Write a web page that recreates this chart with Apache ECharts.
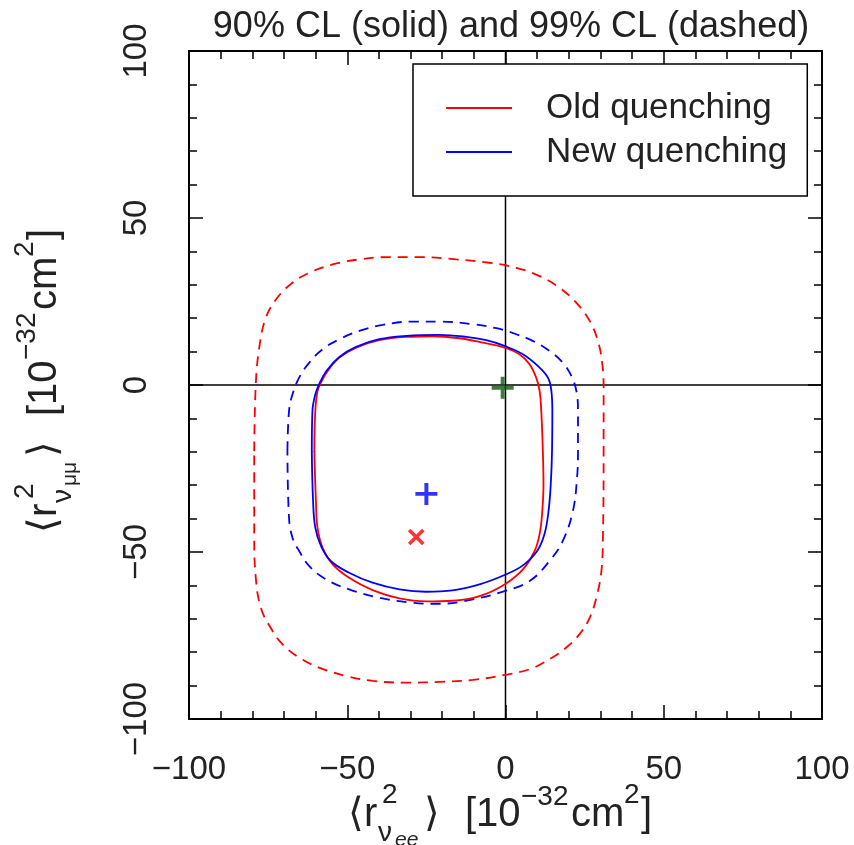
<!DOCTYPE html>
<html>
<head>
<meta charset="utf-8">
<script src="https://cdn.jsdelivr.net/npm/echarts@6/dist/echarts.min.js"></script>
<style>
html,body{margin:0;padding:0;background:#fff;}
#chart{width:854px;height:845px;}
</style>
</head>
<body>
<div id="chart"></div>
<script>
// ---- data ----
const titleText = '90% CL (solid) and 99% CL (dashed)';
const axisMin = -100, axisMax = 100, axisStep = 50;
const tickValues = [-100, -50, 0, 50, 100];

const seriesNames = ['Old quenching', 'New quenching'];

// 90% CL, old quenching (red solid)
const old90 = [[-60.4,-19.8],[-60.1,-7.8],[-59.4,-1.8],[-58.3,0.7],[-56.2,4.2],[-52.5,8.2],[-47.2,11.2],[-39.9,13.4],[-31.4,14.4],[-23.0,14.6],[-14.6,14.0],[-7.2,12.7],[-0.3,11.2],[4.4,9.2],[7.6,6.2],[9.7,2.2],[10.8,-1.8],[11.3,-7.8],[11.8,-19.8],[12.0,-29.7],[11.6,-38.0],[10.8,-44.5],[9.2,-49.7],[5.5,-55.2],[-0.3,-59.7],[-8.2,-63.2],[-16.7,-64.6],[-25.1,-64.8],[-33.5,-63.9],[-42.0,-61.4],[-49.4,-57.7],[-54.6,-53.7],[-57.8,-48.7],[-59.4,-42.7],[-59.9,-34.7],[-60.4,-19.8]];
// 90% CL, new quenching (blue solid)
const new90 = [[-61.2,-19.8],[-61.0,-7.8],[-60.1,-2.8],[-58.9,0.2],[-56.6,4.2],[-52.5,8.4],[-47.2,11.4],[-39.9,13.7],[-31.4,14.7],[-20.9,15.0],[-12.4,14.4],[-6.1,13.4],[-0.3,11.7],[5.5,9.2],[10.2,5.7],[13.4,2.2],[14.5,-1.8],[14.8,-7.8],[14.7,-19.8],[14.3,-29.7],[13.6,-37.7],[12.3,-44.7],[10.0,-49.7],[5.5,-54.0],[-0.3,-56.9],[-8.2,-59.7],[-16.7,-61.5],[-25.1,-61.9],[-33.5,-61.2],[-42.0,-59.2],[-49.4,-56.2],[-55.2,-52.7],[-58.3,-48.2],[-60.1,-42.7],[-60.8,-34.7],[-61.2,-19.8]];
// 99% CL, old quenching (red dashed)
const old99 = [[-79.4,-19.8],[-78.9,0.2],[-77.8,11.2],[-75.7,20.2],[-72.1,26.1],[-67.3,30.6],[-62.0,33.6],[-54.6,36.1],[-46.2,37.6],[-36.7,38.3],[-26.2,38.3],[-15.6,37.6],[-5.1,36.6],[3.4,35.1],[10.8,32.6],[17.1,29.1],[22.4,24.6],[26.6,19.2],[29.2,13.2],[30.6,6.2],[31.0,-1.8],[31.0,-19.8],[30.8,-44.7],[30.3,-55.7],[28.7,-63.7],[26.6,-69.7],[23.4,-74.6],[19.2,-78.6],[13.9,-82.1],[7.6,-85.1],[-0.3,-86.8],[-10.3,-88.3],[-20.9,-88.9],[-31.4,-89.1],[-42.0,-88.6],[-50.4,-87.1],[-58.9,-84.6],[-65.2,-81.6],[-70.5,-77.6],[-74.2,-72.7],[-77.3,-66.7],[-78.9,-57.7],[-79.4,-44.7],[-79.4,-19.8]];
// 99% CL, new quenching (blue dashed)
const new99 = [[-68.9,-19.8],[-68.4,-7.8],[-67.3,-2.8],[-65.2,2.2],[-62.0,6.7],[-57.8,10.7],[-52.5,13.7],[-46.2,16.2],[-38.8,18.0],[-29.3,19.0],[-20.9,19.0],[-10.3,18.2],[-2.9,17.0],[3.4,15.2],[8.6,13.2],[13.9,10.2],[18.1,6.7],[20.8,2.7],[22.4,-1.8],[22.9,-7.8],[22.9,-19.8],[22.6,-27.8],[21.3,-37.7],[18.1,-46.7],[13.9,-52.7],[7.6,-58.7],[-0.3,-61.7],[-10.3,-64.2],[-20.9,-65.5],[-29.3,-65.2],[-39.9,-63.7],[-49.4,-61.2],[-56.7,-58.2],[-62.0,-54.2],[-65.2,-49.7],[-67.3,-45.7],[-68.4,-39.7],[-68.9,-19.8]];

// best-fit / reference points
const smPoint = [[-0.9, -0.8]];      // green plus (Standard Model)
const newBest = [[-25.0, -32.6]];    // blue plus
const oldBest = [[-28.2, -45.5]];    // red cross

// zero lines
const zeroH = [[-100, 0], [100, 0]];
const zeroV = [[0, -100], [0, 100]];

// ---- chart ----
const FONT = '"Liberation Sans", "DejaVu Sans", Arial, sans-serif';
const TXT = '#222';
const chart = echarts.init(document.getElementById('chart'), null, {renderer: 'canvas'});

const fmt = v => (v < 0 ? '\u2212' + Math.abs(v) : String(v));

function valueAxis(extra) {
  return Object.assign({
    type: 'value', min: axisMin, max: axisMax, interval: axisStep,
    axisLine: {show: true, onZero: false, lineStyle: {color: '#000', width: 2}},
    axisTick: {show: true, inside: true, length: 14, lineStyle: {color: '#000', width: 1.5}},
    minorTick: {show: true, splitNumber: 5, length: 8, lineStyle: {color: '#000', width: 1.5}},
    splitLine: {show: false},
    minorSplitLine: {show: false},
    axisLabel: {show: false}
  }, extra);
}

const PLUS = 'path://M-1,-0.18L1,-0.18L1,0.18L-1,0.18Z M-0.18,-1L0.18,-1L0.18,1L-0.18,1Z';

function contour(name, data, color, dashed) {
  return {
    name: name, type: 'line', data: data, symbol: 'none', smooth: 0.4,
    color: color, silent: true, z: 3,
    lineStyle: {color: color, width: 1.8, type: dashed ? [10, 7] : 'solid'}
  };
}

// axis name builder: pieces laid out along the text direction
function axisName(sub2, sub2Italic) {
  const main = 40, sup = 28;
  const parts = [
    {t: '\u27E8', dx: 0, dy: 0, s: main},
    {t: 'r', dx: 16, dy: 0, s: main},
    {t: '2', dx: 34, dy: -20, s: sup},
    {t: '\u03BD', dx: 30, dy: 18, s: sup},
    {t: sub2, dx: 47, dy: 25, s: 21, it: sub2Italic},
    {t: '\u27E9', dx: 76, dy: 0, s: main},
    {t: '[10', dx: 117, dy: 0, s: main},
    {t: '\u221232', dx: 173, dy: -18, s: sup},
    {t: 'cm', dx: 223, dy: 0, s: main},
    {t: '2', dx: 276, dy: -20, s: sup},
    {t: ']', dx: 293, dy: 0, s: main}
  ];
  return parts.map(p => ({
    type: 'text', x: p.dx, y: p.dy,
    style: {text: p.t, font: (p.it ? 'italic ' : '') + p.s + 'px ' + FONT, fill: TXT,
            align: 'left', verticalAlign: 'middle'}
  }));
}

const option = {
  backgroundColor: '#fff',
  animation: false,
  title: {
    text: titleText, left: 506, top: 4, textAlign: 'center',
    textStyle: {fontSize: 36, fontWeight: 'normal', color: TXT, fontFamily: FONT}
  },
  grid: {left: 189, right: 32, top: 51, bottom: 126, show: false},
  legend: {
    data: seriesNames.map(n => ({name: n, icon: 'rect'})),
    orient: 'vertical', left: 413, top: 64,
    padding: [22, 20, 22, 33], itemGap: 0,
    itemWidth: 66, itemHeight: 2,
    backgroundColor: '#fff', borderColor: '#000', borderWidth: 1.5,
    selectedMode: false, z: 10,
    textStyle: {fontSize: 35, color: TXT, fontFamily: FONT, lineHeight: 44, padding: [0, 0, 0, 29]}
  },
  xAxis: [
    valueAxis({position: 'bottom',
      axisLabel: {show: true, fontSize: 33, color: TXT, fontFamily: FONT, margin: 34, formatter: fmt}}),
    valueAxis({position: 'top'})
  ],
  yAxis: [
    valueAxis({position: 'left',
      axisLabel: {show: true, rotate: 90, fontSize: 33, color: TXT, fontFamily: FONT, margin: 36, formatter: fmt}}),
    valueAxis({position: 'right'})
  ],
  graphic: [
    {type: 'group', x: 348, y: 815, children: axisName('ee', true), silent: true},
    {type: 'group', x: 45, y: 533, rotation: Math.PI / 2, children: axisName('\u03BC\u03BC', false), silent: true}
  ],
  series: [
    {name: 'zeroH', type: 'line', data: zeroH, symbol: 'none', silent: true, z: 2,
     lineStyle: {color: '#000', width: 1.5}},
    {name: 'zeroV', type: 'line', data: zeroV, symbol: 'none', silent: true, z: 2,
     lineStyle: {color: '#000', width: 1.5}},
    contour(seriesNames[0] + ' 99', old99, '#ff0000', true),
    contour(seriesNames[1] + ' 99', new99, '#0000ff', true),
    contour(seriesNames[0], old90, '#ff0000', false),
    contour(seriesNames[1], new90, '#0000ff', false),
    {name: 'SM', type: 'scatter', data: smPoint, symbol: PLUS, symbolSize: 22, silent: true, z: 5,
     itemStyle: {color: '#0f5a0f'}},
    {name: 'newBest', type: 'scatter', data: newBest, symbol: PLUS, symbolSize: 22, silent: true, z: 5,
     itemStyle: {color: '#0000ff'}},
    {name: 'oldBest', type: 'scatter', data: oldBest, symbol: PLUS, symbolSize: 20, symbolRotate: 45, silent: true, z: 5,
     itemStyle: {color: '#ff0000'}}
  ]
};
chart.setOption(option);
</script>
</body>
</html>
